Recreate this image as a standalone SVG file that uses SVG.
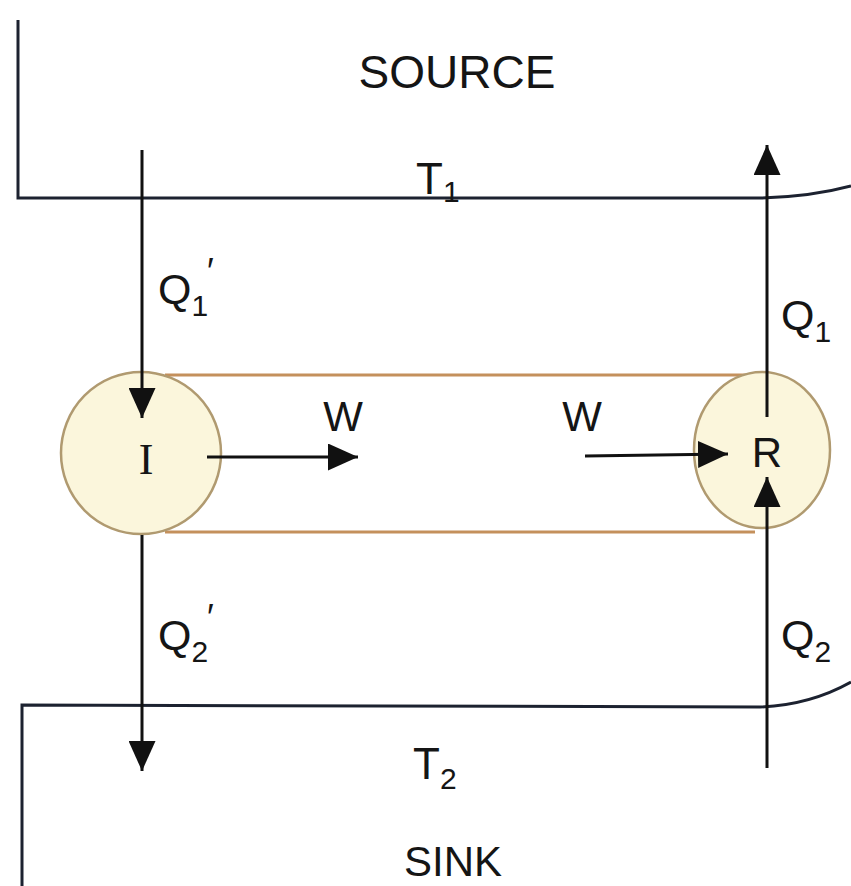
<svg xmlns="http://www.w3.org/2000/svg" width="851" height="886" viewBox="0 0 851 886">
<style>
.wall{fill:none;stroke:#1c2230;stroke-width:3}
.arr{fill:none;stroke:#111;stroke-width:3}
.lbl{font-family:"Liberation Sans",Arial,sans-serif;fill:#151515}
.sub{font-size:30px}
.node{fill:#fbf6dc;stroke:#b09a70;stroke-width:2.5}
.band{fill:none;stroke:#c4905c;stroke-width:3}
</style>
<defs>
<marker id="ahb" viewBox="0 0 10 10" refX="10" refY="5" markerWidth="30" markerHeight="27" markerUnits="userSpaceOnUse" orient="auto" preserveAspectRatio="none">
<path d="M0,0 L10,5 L0,10 Z" fill="#111"/>
</marker>
</defs>
<rect width="851" height="886" fill="#ffffff"/>

<g id="source">
<path class="wall" d="M18,20 L18,198 L760,198 Q810,197 851,186"/>
<text class="lbl" x="457" y="88" font-size="46" text-anchor="middle">SOURCE</text>
<text class="lbl" x="416" y="194" font-size="44">T<tspan class="sub" dy="8">1</tspan></text>
</g>

<g id="sink">
<path class="wall" d="M22,886 L22,705 L760,707 Q810,705 851,682"/>
<text class="lbl" x="413" y="779" font-size="44">T<tspan class="sub" dy="10">2</tspan></text>
<text class="lbl" x="453" y="876" font-size="42" text-anchor="middle">SINK</text>
</g>

<g id="band">
<line class="band" x1="165" y1="375" x2="755" y2="375"/>
<line class="band" x1="165" y1="532" x2="755" y2="532"/>
</g>

<g id="engine-I">
<ellipse class="node" cx="141" cy="453" rx="80" ry="81"/>
<text x="146" y="474" font-family="Liberation Serif,'Times New Roman',serif" font-size="44" fill="#151515" text-anchor="middle">I</text>
</g>

<g id="engine-R">
<ellipse class="node" cx="762" cy="450" rx="68" ry="78"/>
<text class="lbl" x="767" y="467" font-size="42" text-anchor="middle">R</text>
</g>

<g id="connectors">
<line class="arr" x1="142" y1="150" x2="142" y2="418" marker-end="url(#ahb)"/>
<line class="arr" x1="142" y1="535" x2="142" y2="771" marker-end="url(#ahb)"/>
<line class="arr" x1="767" y1="417" x2="767" y2="145" marker-end="url(#ahb)"/>
<line class="arr" x1="767" y1="768" x2="767" y2="477" marker-end="url(#ahb)"/>
<line class="arr" x1="207" y1="457" x2="358" y2="457" marker-end="url(#ahb)"/>
<line class="arr" x1="585" y1="456" x2="728" y2="454" marker-end="url(#ahb)"/>
</g>

<g id="labels">
<text class="lbl" x="158" y="304" font-size="43">Q<tspan class="sub" dy="12">1</tspan></text>
<text class="lbl" x="207" y="284" font-size="36">′</text>
<text class="lbl" x="781" y="330" font-size="43">Q<tspan class="sub" dy="12">1</tspan></text>
<text class="lbl" x="158" y="650" font-size="43">Q<tspan class="sub" dy="12">2</tspan></text>
<text class="lbl" x="207" y="630" font-size="36">′</text>
<text class="lbl" x="781" y="650" font-size="43">Q<tspan class="sub" dy="12">2</tspan></text>
<text class="lbl" x="343" y="431" font-size="42" text-anchor="middle">W</text>
<text class="lbl" x="582" y="431" font-size="42" text-anchor="middle">W</text>
</g>
</svg>
